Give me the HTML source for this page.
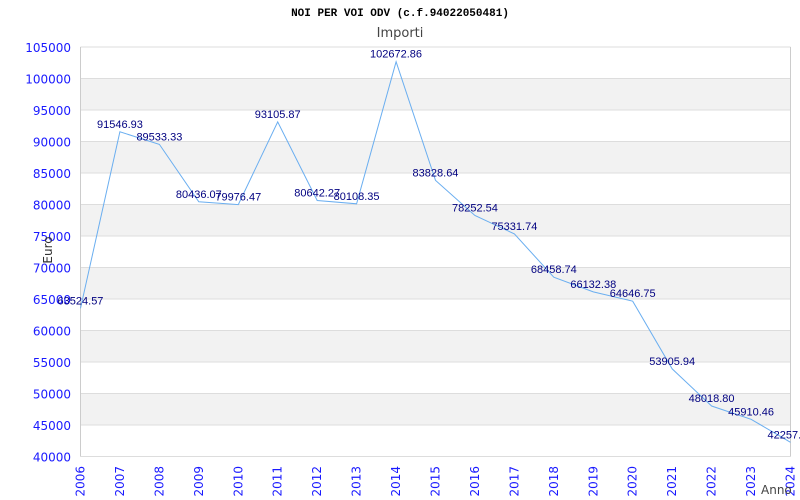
<!DOCTYPE html>
<html><head><meta charset="utf-8"><style>
html,body{margin:0;padding:0;background:#fff;}
svg{display:block;}
</style></head><body>
<svg id="chart" width="800" height="500" viewBox="0 0 800 500" xmlns="http://www.w3.org/2000/svg">
<text x="400" y="16" text-anchor="middle" font-family="Liberation Mono, monospace" font-weight="bold" font-size="11" fill="#000">NOI PER VOI ODV (c.f.94022050481)</text>
<text x="400" y="37" text-anchor="middle" font-family="DejaVu Sans, sans-serif" font-size="13" fill="#444">Importi</text>
<g id="bands"></g>
<g id="grid"></g>
<g id="yticks"></g>
<g id="xticks"></g>
<path id="line" fill="none" stroke="#6aaef0" stroke-width="1"/>
<g id="labels"></g>
<text transform="translate(52,250) rotate(-90)" text-anchor="middle" font-family="DejaVu Sans, sans-serif" font-size="12" fill="#333">Euro</text>
<text x="761" y="494" font-family="DejaVu Sans, sans-serif" font-size="12" fill="#444">Anno</text>
</svg>
<script>
const years = [2006,2007,2008,2009,2010,2011,2012,2013,2014,2015,2016,2017,2018,2019,2020,2021,2022,2023,2024];
const values = [63524.57,91546.93,89533.33,80436.07,79976.47,93105.87,80642.27,80108.35,102672.86,83828.64,78252.54,75331.74,68458.74,66132.38,64646.75,53905.94,48018.80,45910.46,42257.10];
const yTicks = [40000,45000,50000,55000,60000,65000,70000,75000,80000,85000,90000,95000,100000,105000];
const X0=80.5,X1=790.5,Y0=456.5,Y1=47;
const yMin=40000,yMax=105000;
const NS='http://www.w3.org/2000/svg';
function sx(i){return X0+(X1-X0)*i/(years.length-1);}
function sy(v){return Y0-(Y0-Y1)*(v-yMin)/(yMax-yMin);}
function mk(tag,attrs,parent,text){const e=document.createElementNS(NS,tag);for(const k in attrs)e.setAttribute(k,attrs[k]);if(text!==undefined)e.textContent=text;document.getElementById(parent).appendChild(e);return e;}
for(let k=0;k<yTicks.length-1;k++){
  if((yTicks.length-2-k)%2===1){
    const r=mk('rect',{x:X0,y:sy(yTicks[k+1]),width:X1-X0,height:sy(yTicks[k])-sy(yTicks[k+1]),fill:'#f2f2f2'},'bands');
    
    
  }
}
yTicks.forEach(t=>{
  const l=mk('line',{x1:X0,x2:X1,y1:sy(t),y2:sy(t),stroke:'#dddddd','stroke-width':1},'grid');
  
  
  const tx=mk('text',{x:71,y:sy(t)+5,'text-anchor':'end','font-family':'DejaVu Sans, sans-serif','font-size':12,fill:'#1a1aff'},'yticks',String(t));
  
  
});
const ax=mk('line',{x1:X0,x2:X0,y1:Y1,y2:Y0,stroke:'#cccccc','stroke-width':1},'grid');


const ax2=mk('line',{x1:X1,x2:X1,y1:Y1,y2:Y0,stroke:'#cccccc','stroke-width':1},'grid');


years.forEach((y,i)=>{
  const x=sx(i);
  const t=mk('text',{transform:`translate(${x+4},${Y0+40}) rotate(-90)`,'font-family':'DejaVu Sans, sans-serif','font-size':12,fill:'#1a1aff'},'xticks',String(y));
  
  
});
let d='';
values.forEach((v,i)=>{d+=(i?'L':'M')+sx(i).toFixed(1)+','+sy(v).toFixed(1);});
document.getElementById('line').setAttribute('d',d);
values.forEach((v,i)=>{
  const t=mk('text',{x:sx(i),y:sy(v)-4,'text-anchor':'middle','font-family':'Liberation Sans, sans-serif','font-size':11,fill:'#000080'},'labels',v.toFixed(2));
  
  
});
</script>
</body></html>
